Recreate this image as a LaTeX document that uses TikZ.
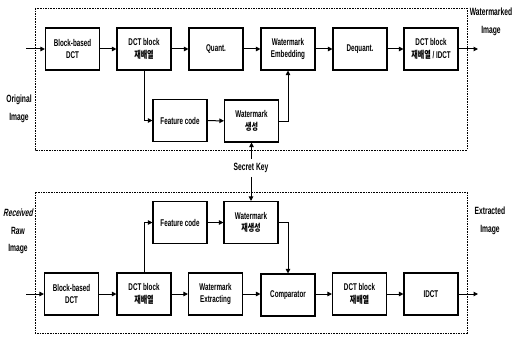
\documentclass[tikz,border=0pt]{standalone}
\usepackage{fontspec}
\setmainfont[FakeStretch=0.64]{Liberation Sans}
\newfontfamily\kr[FakeStretch=0.72]{Noto Sans CJK KR}
\newcommand{\ko}[1]{{\kr\bfseries #1}}
\usetikzlibrary{arrows.meta}
\begin{document}
\begin{tikzpicture}[x=1pt,y=-1pt,
 blk/.style={draw, line width=1.1pt, minimum width=54pt, minimum height=42pt, align=center,
   font=\fontsize{9.8}{12.5}\selectfont\bfseries, inner sep=1pt},
 arr/.style={-{Triangle[length=4.5pt,width=4.5pt]}, line width=1pt},
 frame/.style={dash pattern=on 1.6pt off 1pt, line width=0.7pt},
 lbl/.style={align=center, font=\fontsize{10.5}{17.5}\selectfont\bfseries, inner sep=0pt}]
\useasboundingbox (0,0) rectangle (514,337);
% frames
\draw[frame] (35,8) rectangle (467,150);
\draw[frame] (35,192) rectangle (467,333);
% top row
\node[blk] (b1) at (72.5,49) {Block-based\\DCT};
\node[blk] (b2) at (144,49) {DCT block\\\ko{재배열}};
\node[blk] (b3) at (216,49) {Quant.};
\node[blk] (b4) at (288,49) {Watermark\\Embedding};
\node[blk] (b5) at (360,49) {Dequant.};
\node[blk] (b6) at (431,49) {DCT block\\\ko{재배열} / IDCT};
\node[blk] (f1) at (180,120.5) {Feature code};
\node[blk] (w1) at (251.5,121) {Watermark\\\ko{생성}};
% bottom rows
\node[blk] (c1) at (71.5,294) {Block-based\\DCT};
\node[blk] (c2) at (144,294) {DCT block\\\ko{재배열}};
\node[blk] (c3) at (215.5,294) {Watermark\\Extracting};
\node[blk] (c4) at (288,295) {Comparator};
\node[blk] (c5) at (359.5,294) {DCT block\\\ko{재배열}};
\node[blk] (c6) at (431,294) {IDCT};
\node[blk] (f2) at (180,222.5) {Feature code};
\node[blk] (w2) at (251,222.5) {Watermark\\\ko{재생성}};
% labels
\node[lbl] (sk) at (251,168) {Secret Key};
\node[lbl] (li1) at (19,109) {Original\\Image};
\node[lbl] (lo1) at (491,22) {Watermarked\\Image};
\node[lbl] (li2) at (18,231.5) {\addfontfeature{FakeSlant=0.2}Received\\Raw\\Image};
\node[lbl] (lo2) at (490,221) {Extracted\\Image};
% free ends
\coordinate (in1) at (26,49);
\coordinate (out1) at (478,49);
\coordinate (in2) at (26,294);
\coordinate (out2) at (478,294);
% top connectors
\draw[arr] (in1) -- (b1.west);
\draw[arr] (b1) -- (b2);
\draw[arr] (b2) -- (b3);
\draw[arr] (b3) -- (b4);
\draw[arr] (b4) -- (b5);
\draw[arr] (b5) -- (b6);
\draw[arr] (b6.east) -- (out1);
\draw[arr] (b2.south) |- (f1.west);
\draw[arr] (f1) -- (w1);
\draw[arr] (w1.east) -| (b4.south);
\draw[arr] (w1.south |- sk.north) ++(0,-4) -- (w1.south);
% bottom connectors
\draw[arr] (in2) -- (c1.west);
\draw[arr] (c1) -- (c2);
\draw[arr] (c2) -- (c3);
\draw[arr] (c3) -- (c4.west |- c3);
\draw[arr] (c4.east |- c5) -- (c5);
\draw[arr] (c5) -- (c6);
\draw[arr] (c6.east) -- (out2);
\draw[arr] (c2.north) |- (f2.west);
\draw[arr] (f2) -- (w2);
\draw[arr] (w2.east) -| (c4.north);
\draw[arr] (w2.north |- sk.south) ++(0,4) -- (w2.north);
\end{tikzpicture}
\end{document}
